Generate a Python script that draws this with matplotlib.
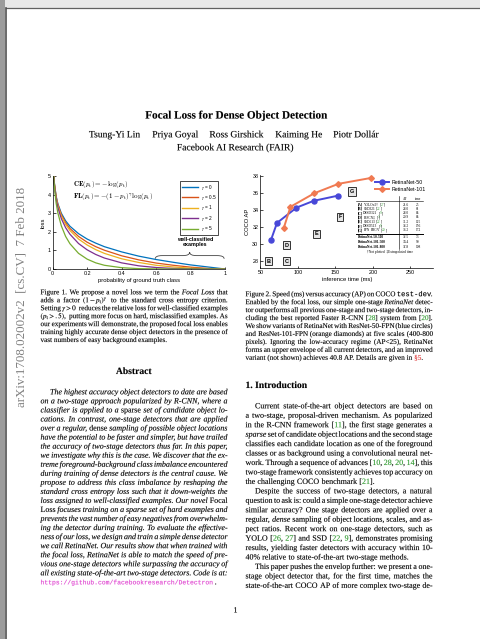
import re
import matplotlib
matplotlib.use('Agg')
import matplotlib.pyplot as plt
import matplotlib.patheffects as pe
from matplotlib.path import Path
from matplotlib.patches import PathPatch, Rectangle

plt.rcParams['mathtext.fontset'] = 'stix'
plt.rcParams['font.family'] = 'Liberation Sans'

# ---------------- data ----------------
# Figure 1: loss vs. probability of ground truth class, one series per gamma
p_true = [0.005, 0.007, 0.01, 0.02, 0.03, 0.05, 0.075, 0.1, 0.15, 0.2, 0.25,
          0.3, 0.4, 0.5, 0.6, 0.7, 0.8, 0.9, 1.0]
loss_gamma_0 = [5.30, 4.96, 4.61, 3.91, 3.51, 3.00, 2.59, 2.30, 1.90, 1.61, 1.39,
                1.20, 0.92, 0.69, 0.51, 0.36, 0.22, 0.11, 0.0]
loss_gamma_05 = [5.29, 4.94, 4.58, 3.87, 3.46, 2.92, 2.49, 2.18, 1.75, 1.44, 1.20,
                 1.01, 0.71, 0.49, 0.32, 0.20, 0.10, 0.03, 0.0]
loss_gamma_1 = [5.27, 4.93, 4.56, 3.83, 3.40, 2.85, 2.40, 2.07, 1.61, 1.29, 1.04,
                0.84, 0.55, 0.35, 0.20, 0.11, 0.045, 0.01, 0.0]
loss_gamma_2 = [5.25, 4.89, 4.51, 3.76, 3.30, 2.71, 2.22, 1.87, 1.37, 1.03, 0.78,
                0.59, 0.33, 0.17, 0.08, 0.03, 0.01, 0.0, 0.0]
loss_gamma_5 = [5.17, 4.79, 4.38, 3.54, 3.01, 2.32, 1.75, 1.36, 0.84, 0.53, 0.33,
                0.20, 0.07, 0.02, 0.005, 0.0, 0.0, 0.0, 0.0]
gamma_labels = ['0', '0.5', '1', '2', '5']
gamma_colors = ['#0072bd', '#d95319', '#edb120', '#7e2f8e', '#77ac30']

# Figure 2: speed (ms) vs COCO AP
r50_time = [64, 72, 98, 121, 153]
r50_ap = [30.5, 32.5, 34.3, 35.1, 35.7]
r101_time = [81, 90, 122, 154, 198]
r101_ap = [31.9, 34.4, 36.0, 37.1, 37.8]
det_letters = ['B', 'C', 'D', 'E', 'F', 'G']
det_time = [61, 85, 85, 125, 156, 172]
det_ap = [28.0, 28.0, 29.9, 31.2, 33.2, 36.2]

table_names = ['<b>[A]</b> YOLOv2† [<g>27</g>]', '<b>[B]</b> SSD321 [<g>22</g>]',
               '<b>[C]</b> DSSD321 [<g>9</g>]', '<b>[D]</b> R-FCN‡ [<g>3</g>]',
               '<b>[E]</b> SSD513 [<g>22</g>]', '<b>[F]</b> DSSD513 [<g>9</g>]',
               '<b>[G]</b> FPN FRCN [<g>20</g>]', '<b>RetinaNet-50-500</b>',
               '<b>RetinaNet-101-500</b>', '<b>RetinaNet-101-800</b>']
table_ap = ['21.6', '28.0', '28.0', '29.9', '31.2', '33.2', '36.2', '32.5', '34.4', '37.8']
table_time = ['25', '61', '85', '85', '125', '156', '172', '73', '90', '198']
table_note = '†Not plotted  ‡Extrapolated time'

title = 'Focal Loss for Dense Object Detection'
authors = ['Tsung-Yi Lin', 'Priya Goyal', 'Ross Girshick', 'Kaiming He', 'Piotr Dollár']
affiliation = 'Facebook AI Research (FAIR)'
stamp = 'arXiv:1708.02002v2  [cs.CV]  7 Feb 2018'

fig1_caption = [
    'Figure 1. We propose a novel loss we term the <i>Focal Loss</i> that',
    r'adds a factor $(1-p_{\mathrm{t}})^\gamma$ to the standard cross entropy criterion.',
    r'Setting $\gamma>0$ reduces the relative loss for well-classified examples',
    r'$(p_{\mathrm{t}}>.5)$, putting more focus on hard, misclassified examples. As',
    'our experiments will demonstrate, the proposed focal loss enables',
    'training highly accurate dense object detectors in the presence of',
    'vast numbers of easy background examples.',
]
abstract_lines = [
    'The highest accuracy object detectors to date are based',
    'on a two-stage approach popularized by R-CNN, where a',
    'classifier is applied to a <r>sparse</r> set of candidate object lo-',
    'cations. In contrast, one-stage detectors that are applied',
    'over a regular, <r>dense</r> sampling of possible object locations',
    'have the potential to be faster and simpler, but have trailed',
    'the accuracy of two-stage detectors thus far. In this paper,',
    'we investigate why this is the case. We discover that the ex-',
    'treme foreground-background class imbalance encountered',
    'during training of dense detectors is the central cause. We',
    'propose to address this class imbalance by reshaping the',
    'standard cross entropy loss such that it down-weights the',
    'loss assigned to well-classified examples. Our novel <r>Focal</r>',
    '<r>Loss</r> focuses training on a sparse set of hard examples and',
    'prevents the vast number of easy negatives from overwhelm-',
    'ing the detector during training. To evaluate the effective-',
    'ness of our loss, we design and train a simple dense detector',
    'we call RetinaNet. Our results show that when trained with',
    'the focal loss, RetinaNet is able to match the speed of pre-',
    'vious one-stage detectors while surpassing the accuracy of',
    'all existing state-of-the-art two-stage detectors. Code is at:',
    '<u>https://github.com/facebookresearch/Detectron</u>.',
]
fig2_caption = [
    'Figure 2. Speed (ms) versus accuracy (AP) on COCO <t>test-dev</t>.',
    'Enabled by the focal loss, our simple one-stage <i>RetinaNet</i> detec-',
    'tor outperforms all previous one-stage and two-stage detectors, in-',
    'cluding the best reported Faster R-CNN [<g>28</g>] system from [<g>20</g>].',
    'We show variants of RetinaNet with ResNet-50-FPN (blue circles)',
    'and ResNet-101-FPN (orange diamonds) at five scales (400-800',
    'pixels). Ignoring the low-accuracy regime (AP<25), RetinaNet',
    'forms an upper envelope of all current detectors, and an improved',
    'variant (not shown) achieves 40.8 AP. Details are given in <e>§5</e>.',
]
intro_p1 = [
    'Current state-of-the-art object detectors are based on',
    'a two-stage, proposal-driven mechanism. As popularized',
    'in the R-CNN framework [<g>11</g>], the first stage generates a',
    '<i>sparse</i> set of candidate object locations and the second stage',
    'classifies each candidate location as one of the foreground',
    'classes or as background using a convolutional neural net-',
    'work. Through a sequence of advances [<g>10</g>, <g>28</g>, <g>20</g>, <g>14</g>], this',
    'two-stage framework consistently achieves top accuracy on',
    'the challenging COCO benchmark [<g>21</g>].',
]
intro_p2 = [
    'Despite the success of two-stage detectors, a natural',
    'question to ask is: could a simple one-stage detector achieve',
    'similar accuracy? One stage detectors are applied over a',
    'regular, <i>dense</i> sampling of object locations, scales, and as-',
    'pect ratios. Recent work on one-stage detectors, such as',
    'YOLO [<g>26</g>, <g>27</g>] and SSD [<g>22</g>, <g>9</g>], demonstrates promising',
    'results, yielding faster detectors with accuracy within 10-',
    '40% relative to state-of-the-art two-stage methods.',
]
intro_p3 = [
    'This paper pushes the envelop further: we present a one-',
    'stage object detector that, for the first time, matches the',
    'state-of-the-art COCO AP of more complex two-stage de-',
]

# ---------------- page setup ----------------
W, H = 481, 639
BODY, CAP = 5.75, 5.18
CITE, REF, LINK = '#2f9a2f', '#e03a3a', '#e040d0'
SERIF, MONO = 'Liberation Serif', 'Liberation Mono'

fig = plt.figure(figsize=(W / 100, H / 100), dpi=100)
page = fig.add_axes([0, 0, 1, 1])
page.set_xlim(0, W)
page.set_ylim(H, 0)
page.axis('off')
page.set_zorder(5)
renderer = fig.canvas.get_renderer()

TAG = re.compile(r'(</?[a-z]>)')


def ink(t, color=None):
    # faint halo so the small type reads about as dark as the scanned page
    t.set_path_effects([pe.withStroke(linewidth=0.3, foreground=color or t.get_color(),
                                      alpha=0.18)])
    return t


def parse(line):
    chars, active = [], []
    for part in TAG.split(line):
        if TAG.fullmatch(part):
            if part[1] == '/':
                active.remove(part[2])
            else:
                active.append(part[1])
        else:
            for ch in part:
                chars.append((ch, tuple(active)))
    words, cur = [], []
    for ch, st in chars:
        if ch == ' ':
            if cur:
                words.append(cur)
                cur = []
        elif cur and cur[-1][1] == st:
            cur[-1] = (cur[-1][0] + ch, st)
        else:
            cur.append((ch, st))
    if cur:
        words.append(cur)
    return words


def fontkw(tags, size, base):
    kw = dict(family=SERIF, size=size, color='black', style=base, weight='normal')
    if 'i' in tags:
        kw['style'] = 'italic'
    if 'r' in tags:
        kw['style'] = 'normal'
    if 'b' in tags:
        kw['weight'] = 'bold'
    if 'g' in tags:
        kw['color'] = CITE
    if 'e' in tags:
        kw['color'] = REF
    if 't' in tags:
        kw['family'] = MONO
        kw['style'] = 'normal'
    if 'u' in tags:
        kw.update(family=MONO, color=LINK, size=size * 0.8, style='normal')
    return kw


def rich_line(x, y, line, size, width=0, align='left', indent=0.0, base='normal', halo=True):
    words = parse(line)
    placed = []
    for w in words:
        runs = []
        for s, tags in w:
            kw = fontkw(tags, size, base)
            t = page.text(0, y, s, va='baseline', ha='left', math_fontfamily='stix', **kw)
            if halo:
                ink(t, kw['color'])
            runs.append((t, t.get_window_extent(renderer).width))
        placed.append(runs)
    total = sum(wd for r in placed for _, wd in r)
    gap = 0.27 * size * 100 / 72
    if align == 'justify' and len(placed) > 1:
        gap = (width - indent - total) / (len(placed) - 1)
    full = total + gap * (len(placed) - 1)
    if align == 'center':
        cx = x - full / 2
    else:
        cx = x + indent
    for r in placed:
        for t, wd in r:
            t.set_x(cx)
            cx += wd
        cx += gap


def paragraph(lines, x, y0, lead, size, width, indent=0.0, base='normal', last_just=False):
    for i, ln in enumerate(lines):
        last = i == len(lines) - 1 and not last_just
        rich_line(x, y0 + i * lead, ln, size, width,
                  'left' if last else 'justify', indent if i == 0 else 0.0, base)


# page frame (viewer background + page edge)
page.add_patch(Rectangle((0, 0), W, 7.5, fc='#e8e8e8', ec='none'))
page.add_patch(Rectangle((0, 0), 5.5, H, fc='#9c9c9c', ec='none'))
page.plot([5.8, W], [7.8, 7.8], color='#606060', lw=0.9)
page.plot([5.8, 5.8], [7.8, H], color='#505050', lw=1.2)

# title block
ink(page.text(235.5, 118.5, title, ha='center', va='baseline', family=SERIF,
              size=8.05, weight='bold'))
for name, cx in zip(authors, [114.7, 175.5, 236.7, 298.8, 356.3]):
    ink(page.text(cx, 137.3, name, ha='center', va='baseline', family=SERIF, size=6.9))
ink(page.text(235.5, 150.3, affiliation, ha='center', va='baseline', family=SERIF, size=6.9))

# arXiv stamp
page.text(21.7, 297, stamp, rotation=90, ha='center', va='center', family=SERIF,
          size=9.4, color='#808080')

LX, RX, CW = 40.5, 245.5, 187.0

paragraph(fig1_caption, LX, 294.3, 7.95, CAP, CW)
ink(page.text(LX + CW / 2, 371.5, 'Abstract', ha='center', va='center', family=SERIF,
              size=6.9, weight='bold'))
paragraph(abstract_lines, LX, 394.3, 9.05, BODY, CW, indent=9.5, base='italic')

paragraph(fig2_caption, RX, 296.2, 7.95, CAP, CW)
ink(page.text(RX, 385.5, '1. Introduction', ha='left', va='center', family=SERIF,
              size=6.9, weight='bold'))
paragraph(intro_p1, RX, 408.3, 9.45, BODY, CW, indent=9.5)
paragraph(intro_p2, RX, 408.3 + 9 * 9.45, 9.45, BODY, CW, indent=9.5)
paragraph(intro_p3, RX, 408.3 + 17 * 9.45, 9.45, BODY, CW, indent=9.5, last_just=True)

ink(page.text(235.5, 612.5, '1', ha='center', va='baseline', family=SERIF, size=BODY))

# ---------------- Figure 1 chart ----------------
ax1 = fig.add_axes([52.7 / W, 1 - 269 / H, 172.3 / W, 93 / H])
for vals, lab, col in zip([loss_gamma_0, loss_gamma_05, loss_gamma_1, loss_gamma_2, loss_gamma_5],
                          gamma_labels, gamma_colors):
    ax1.plot(p_true, vals, color=col, lw=0.9, label=r'$\gamma$ = ' + lab)
ax1.set_xlim(0, 1)
ax1.set_ylim(0, 5)
ax1.set_xticks([0, 0.2, 0.4, 0.6, 0.8, 1])
ax1.set_xticklabels(['0', '0.2', '0.4', '0.6', '0.8', '1'])
ax1.set_yticks([0, 1, 2, 3, 4, 5])
ax1.set_xlabel('probability of ground truth class', fontsize=4.2, labelpad=1.5)
ax1.set_ylabel('loss', fontsize=4.2, labelpad=1.5)
ax1.tick_params(direction='in', length=1.8, width=0.5, labelsize=3.9, pad=1.5)
for s in ['top', 'right']:
    ax1.spines[s].set_visible(False)
for s in ['left', 'bottom']:
    ax1.spines[s].set_linewidth(0.5)
leg = ax1.legend(loc='upper right', bbox_to_anchor=(0.975, 0.975), fontsize=3.4,
                 fancybox=False, edgecolor='black', framealpha=1, handlelength=3.4,
                 labelspacing=0.3, borderpad=0.4, handletextpad=0.5)
leg.get_frame().set_linewidth(0.5)
for ln in leg.get_lines():
    ln.set_linewidth(1.0)
ax1.text(0.118, 4.52, r'$\mathbf{CE}(p_{\mathrm{t}})=-\log(p_{\mathrm{t}})$',
         fontsize=5.0, math_fontfamily='cm', va='center')
ax1.text(0.118, 3.92, r'$\mathbf{FL}(p_{\mathrm{t}})=-(1-p_{\mathrm{t}})^{\gamma}\log(p_{\mathrm{t}})$',
         fontsize=5.0, math_fontfamily='cm', va='center')
ax1.text(0.826, 1.47, 'well-classified\nexamples', ha='center', va='center',
         fontsize=3.9, weight='bold', linespacing=1.0)
bx0, bx1, by0, by1, btip = 0.595, 0.995, 0.55, 0.72, 0.9
bm = (bx0 + bx1) / 2
brace = Path([(bx0, by0), (bx0, by1), (bx0 + 0.04, by1), (bm - 0.04, by1), (bm, by1), (bm, btip),
              (bm, btip), (bm, by1), (bm + 0.04, by1), (bx1 - 0.04, by1), (bx1, by1), (bx1, by0)],
             [Path.MOVETO, Path.CURVE3, Path.CURVE3, Path.LINETO, Path.CURVE3, Path.CURVE3,
              Path.MOVETO, Path.CURVE3, Path.CURVE3, Path.LINETO, Path.CURVE3, Path.CURVE3])
ax1.add_patch(PathPatch(brace, fill=False, ec='#444444', lw=0.6))

# ---------------- Figure 2 chart ----------------
ax2 = fig.add_axes([260.5 / W, 1 - 268 / H, 172.5 / W, 92.7 / H])
ax2.plot(r50_time, r50_ap, color='#4848d8', lw=1.4, marker='o', ms=3.6, label='RetinaNet-50')
ax2.plot(r101_time, r101_ap, color='#f07a52', lw=1.4, marker='D', ms=2.9, label='RetinaNet-101')
for lab, t, a in zip(det_letters, det_time, det_ap):
    ax2.text(t, a, lab, ha='center', va='center', fontsize=4.0, weight='bold',
             bbox=dict(boxstyle='square,pad=0.3', fc='#e6e6e6', ec='#333333', lw=0.7))
ax2.set_xlim(50, 280)
ax2.set_ylim(27.2, 38.1)
ax2.set_xticks([50, 100, 150, 200, 250])
ax2.set_yticks([28, 30, 32, 34, 36, 38])
ax2.set_xlabel('inference time (ms)', fontsize=4.2, labelpad=1.5)
ax2.set_ylabel('COCO AP', fontsize=4.2, labelpad=1.5)
ax2.tick_params(direction='in', length=1.8, width=0.5, labelsize=3.9, pad=1.5)
for s in ['top', 'right']:
    ax2.spines[s].set_visible(False)
for s in ['left', 'bottom']:
    ax2.spines[s].set_linewidth(0.5)
ax2.legend(loc='upper right', bbox_to_anchor=(0.985, 1.0), frameon=False, fontsize=3.8,
           handlelength=2.6, labelspacing=0.3, handletextpad=0.5)

# table inside Figure 2
TS = 2.55
row_y = [205.5 + 4.3 * i for i in range(7)] + [238.5, 243.0, 247.5]
page.text(405.5, 199.5, 'AP', ha='center', va='baseline', family=SERIF, size=TS)
page.text(418.0, 199.5, 'time', ha='center', va='baseline', family=SERIF, size=TS)
for name, ap, tm, y in zip(table_names, table_ap, table_time, row_y):
    rich_line(357.5, y, name, TS, halo=False)
    page.text(405.5, y, ap, ha='center', va='baseline', family=SERIF, size=TS)
    page.text(418.0, y, tm, ha='center', va='baseline', family=SERIF, size=TS)
page.plot([356.5, 423], [201.3, 201.3], color='black', lw=0.4)
page.plot([356.5, 423], [233.5, 233.5], color='black', lw=0.7)
page.plot([399, 399], [196.0, 249.0], color='black', lw=0.4)
page.text(390, 252.5, table_note, ha='center', va='baseline', family=SERIF, size=2.5)

fig.savefig('out.png', dpi=100)
